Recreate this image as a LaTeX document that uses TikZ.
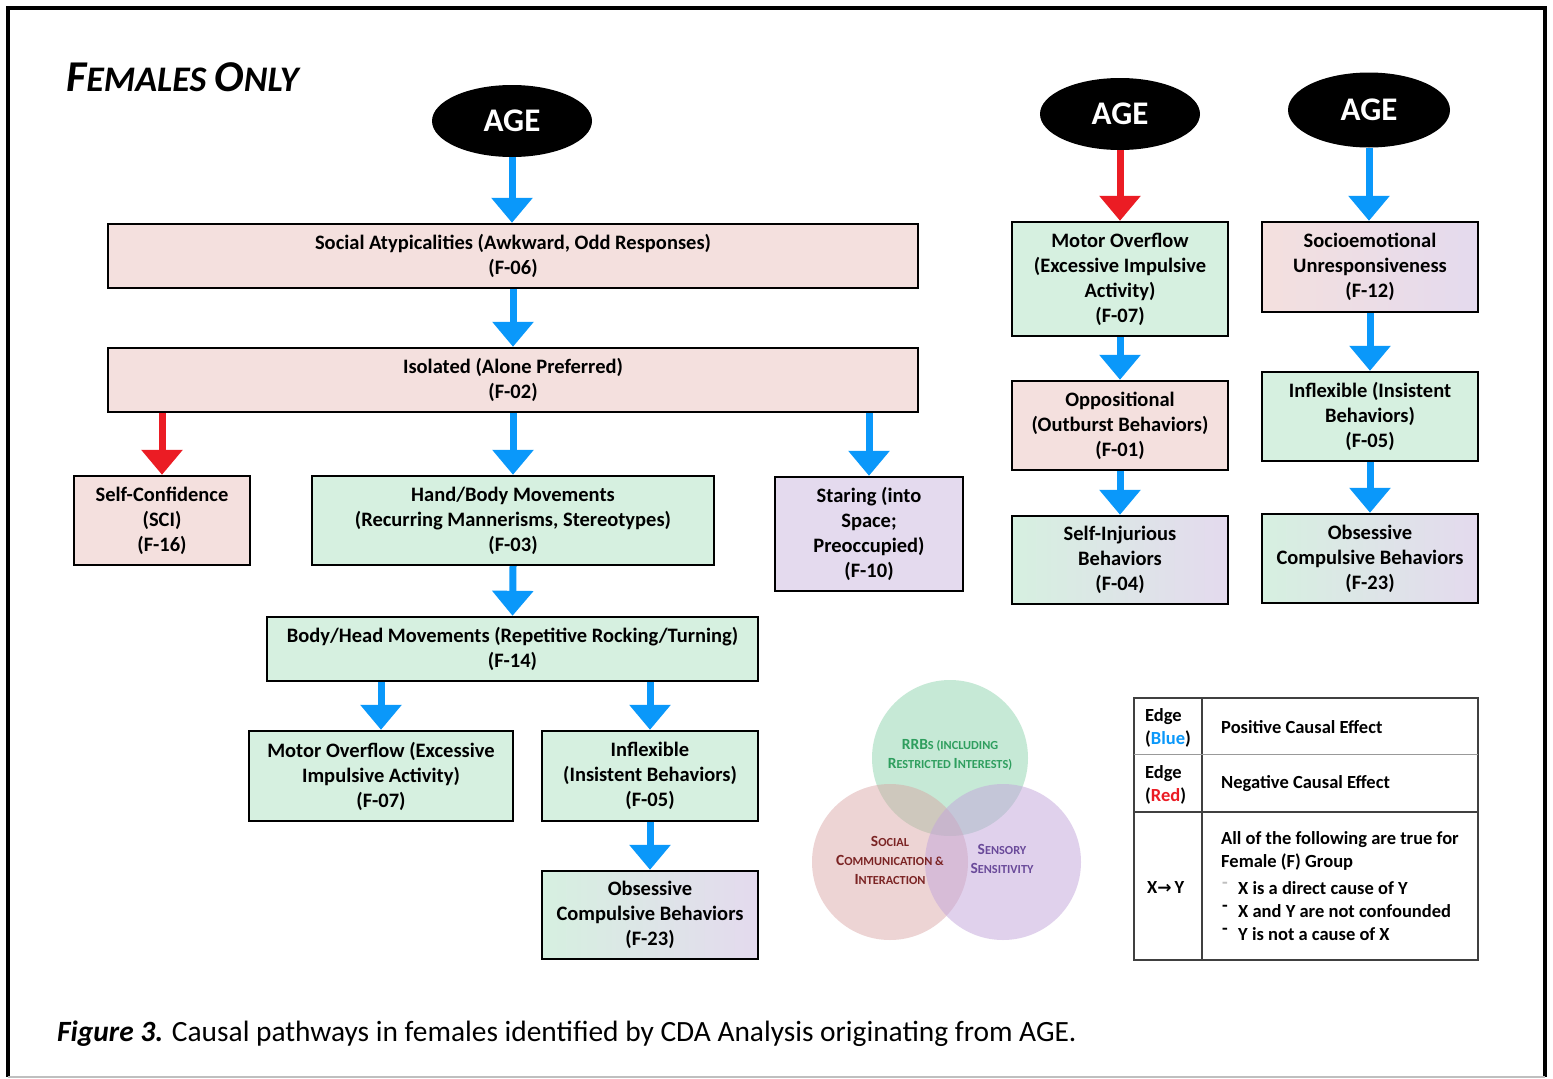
\documentclass[tikz,border=0pt]{standalone}
\usepackage{fontspec}
\setmainfont{Carlito}
\newfontfamily\djv{DejaVu Sans}
\usetikzlibrary{arrows.meta,shapes.geometric}
\definecolor{cpink}{HTML}{F4E0DE}
\definecolor{cgreen}{HTML}{D6F0E0}
\definecolor{cpurple}{HTML}{E4DAEE}
\definecolor{cblue}{HTML}{0A98FA}
\definecolor{cred}{HTML}{EB1C24}
\definecolor{vgreen}{HTML}{8FD4AE}
\definecolor{vpink}{HTML}{D9A0A0}
\definecolor{vpurple}{HTML}{C3A5DB}
\definecolor{tgreen}{HTML}{2E9E5E}
\definecolor{tred}{HTML}{7B2424}
\definecolor{tpurple}{HTML}{6A4A9A}
\newcommand\vsc[2]{{\fontsize{15.5}{15.5}\selectfont #1}{\fontsize{12.3}{12.3}\selectfont\MakeUppercase{#2}}}
\tikzset{
  box/.style={draw=black, line width=2.4pt, align=center, inner sep=2pt,
    font=\bfseries\fontsize{20.5}{25}\selectfont},
  pinkbox/.style={box, fill=cpink},
  greenbox/.style={box, fill=cgreen},
  purplebox/.style={box, fill=cpurple},
  gpbox/.style={box, left color=cgreen, right color=cpurple},
  ppbox/.style={box, left color=cpink, right color=cpurple},
  agenode/.style={ellipse, fill=black, inner sep=0pt, text=white,
    font=\bfseries\fontsize{33}{33}\selectfont},
  posarr/.style={draw=cblue, line width=7pt, -{Triangle[width=40pt,length=25pt]}, fill=cblue},
  negarr/.style={draw=cred, line width=7pt, -{Triangle[width=40pt,length=25pt]}, fill=cred},
  legtext/.style={anchor=west, inner sep=0pt, font=\bfseries\fontsize{18.5}{22}\selectfont},
  venntext/.style={align=center, inner sep=0pt, font=\bfseries\fontsize{15.5}{19}\selectfont}
}
\begin{document}
\begin{tikzpicture}[x=1pt,y=-1pt]
\useasboundingbox (0,0) rectangle (1553,1079);
\fill[white] (0,0) rectangle (1553,1079);
% frame
\draw[line width=4pt] (7.5,1077) -- (7.5,7.5) -- (1544.5,7.5) -- (1544.5,1077);
\draw[gray!50, line width=1.5pt] (7.5,1077) -- (1544.5,1077);

% title
\node[anchor=base west, inner sep=0pt] (title) at (66,91)
  {\bfseries\itshape\fontsize{44}{44}\selectfont F\fontsize{36}{36}\selectfont EMALES \fontsize{44}{44}\selectfont O\fontsize{36}{36}\selectfont NLY};

% AGE nodes
\node[agenode, minimum width=160, minimum height=72] (age1) at (512,121) {AGE};
\node[agenode, minimum width=160, minimum height=72] (age2) at (1120,114) {AGE};
\node[agenode, minimum width=162, minimum height=75] (age3) at (1369,110) {AGE};

% left tree
\node[pinkbox, minimum width=810, minimum height=64] (f06) at (513,256)
  {Social Atypicalities (Awkward, Odd Responses)\\(F-06)};
\node[pinkbox, minimum width=810, minimum height=64] (f02) at (513,380)
  {Isolated (Alone Preferred)\\(F-02)};
\node[pinkbox, minimum width=176, minimum height=89] (f16) at (162,520.5)
  {Self-Confidence\\(SCI)\\(F-16)};
\node[greenbox, minimum width=402, minimum height=89] (f03) at (513,520.5)
  {Hand/Body Movements\\(Recurring Mannerisms, Stereotypes)\\(F-03)};
\node[purplebox, minimum width=188, minimum height=114] (f10) at (869,534)
  {Staring (into\\Space;\\Preoccupied)\\(F-10)};
\node[greenbox, minimum width=491, minimum height=64] (f14) at (512.5,649)
  {Body/Head Movements (Repetitive Rocking/Turning)\\(F-14)};
\node[greenbox, minimum width=264, minimum height=90] (f07) at (381,776)
  {Motor Overflow (Excessive\\Impulsive Activity)\\(F-07)};
\node[greenbox, minimum width=216, minimum height=90] (f05) at (650,776)
  {Inflexible\\(Insistent Behaviors)\\(F-05)};
\node[gpbox, minimum width=216, minimum height=88] (f23) at (650,915)
  {Obsessive\\Compulsive Behaviors\\(F-23)};

% middle column
\node[greenbox, minimum width=216, minimum height=114] (f07b) at (1120,279)
  {Motor Overflow\\(Excessive Impulsive\\Activity)\\(F-07)};
\node[pinkbox, minimum width=216, minimum height=89] (f01) at (1120,425.5)
  {Oppositional\\(Outburst Behaviors)\\(F-01)};
\node[gpbox, minimum width=216, minimum height=88] (f04) at (1120,560)
  {Self-Injurious\\Behaviors\\(F-04)};

% right column
\node[ppbox, minimum width=216, minimum height=90] (f12) at (1370,267)
  {Socioemotional\\Unresponsiveness\\(F-12)};
\node[greenbox, minimum width=216, minimum height=89] (f05b) at (1370,416.5)
  {Inflexible (Insistent\\Behaviors)\\(F-05)};
\node[gpbox, minimum width=216, minimum height=89] (f23b) at (1370,558.5)
  {Obsessive\\Compulsive Behaviors\\(F-23)};

% arrows
\draw[posarr] (age1.south) -- (age1.south |- f06.north);
\draw[posarr] (f06.south) -- (f02.north);
\draw[negarr] (f02.south -| f16.north) -- (f16.north);
\draw[posarr] (f02.south) -- (f03.north);
\draw[posarr] (f02.south -| f10.north) -- (f10.north);
\draw[posarr] (f03.south) -- (f14.north);
\draw[posarr] (f14.south -| f07.north) -- (f07.north);
\draw[posarr] (f14.south -| f05.north) -- (f05.north);
\draw[posarr] (f05.south) -- (f23.north);
\draw[negarr] (age2.south) -- (age2.south |- f07b.north);
\draw[posarr] (f07b.south) -- (f01.north);
\draw[posarr] (f01.south) -- (f04.north);
\draw[posarr] (age3.south) -- (age3.south |- f12.north);
\draw[posarr] (f12.south) -- (f05b.north);
\draw[posarr] (f05b.south) -- (f23b.north);

% Venn diagram
\fill[vgreen, fill opacity=0.5] (950,758) circle (78);
\fill[vpink, fill opacity=0.45] (890,862) circle (78);
\fill[vpurple, fill opacity=0.5] (1003,862) circle (78);
\node[venntext, text=tgreen] (vrrb) at (950,755)
  {\vsc{RRB}{s (including}\\\vsc{R}{estricted }\vsc{I}{nterests)}};
\node[venntext, text=tred] (vsoc) at (890,860)
  {\vsc{S}{ocial}\\\vsc{C}{ommunication \&}\\\vsc{I}{nteraction}};
\node[venntext, text=tpurple] (vsen) at (1002,859)
  {\vsc{S}{ensory}\\\vsc{S}{ensitivity}};

% legend table
\draw[black!75, line width=1.3pt] (1134,698) rectangle (1478,960);
\draw[black!75, line width=1.3pt] (1202,698) -- (1202,960);
\draw[black!40, line width=1pt] (1134,754) -- (1478,754);
\draw[black!75, line width=1.3pt] (1134,812) -- (1478,812);
\node[legtext] (le1) at (1145,717) {Edge};
\node[legtext] (le2) at (1145,739) {(\textcolor{cblue}{Blue})};
\node[legtext] (lp) at (1221,727) {Positive Causal Effect};
\node[legtext] (le3) at (1145,774) {Edge};
\node[legtext] (le4) at (1145,796) {(\textcolor{cred}{Red})};
\node[legtext] (ln) at (1221,784) {Negative Causal Effect};
\node[legtext] (lx) at (1147,887) {X{\djv\bfseries\fontsize{17}{17}\selectfont →}\,Y};
\node[legtext] (la1) at (1221,840) {All of the following are true for};
\node[legtext] (la2) at (1221,862) {Female (F) Group};
\node[legtext] (lb1) at (1238,888) {X is a direct cause of Y};
\node[legtext] (lb2) at (1238,911) {X and Y are not confounded};
\node[legtext] (lb3) at (1238,934) {Y is not a cause of X};
\node[legtext, text=black!25] (ld1) at (1222,885) {-};
\node[legtext] (ld2) at (1222,908) {-};
\node[legtext] (ld3) at (1222,931) {-};

% caption
\node[anchor=base west, inner sep=0pt] (cap) at (57,1041)
  {\fontsize{29.4}{32}\selectfont\textbf{\textit{Figure 3.}} Causal pathways in females identified by CDA Analysis originating from AGE.};
\end{tikzpicture}
\end{document}
